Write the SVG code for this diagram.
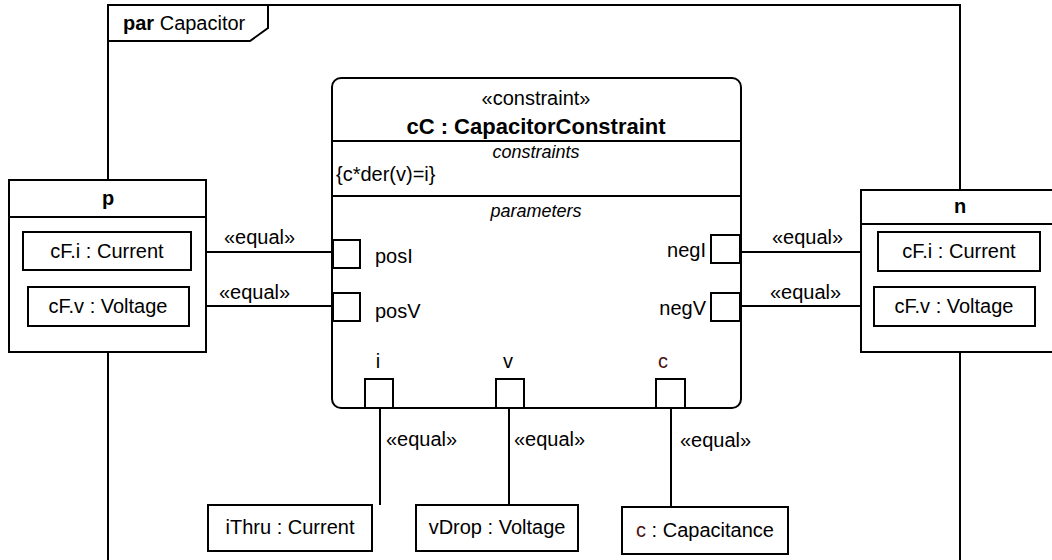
<svg xmlns="http://www.w3.org/2000/svg" width="1052" height="560" viewBox="0 0 1052 560">
<style>
text{font-family:"Liberation Sans",Arial,sans-serif;font-size:20px;fill:#000}
.b{font-weight:bold}
.t{font-size:22px}
.it{font-style:italic;font-size:18px}
.m{text-anchor:middle}
.e{text-anchor:end}
.box{fill:#fff;stroke:#000;stroke-width:2}
.ln{stroke:#000;stroke-width:2;fill:none}
.red{fill:#4a1010}
</style>
<g id="frame">
<rect x="108" y="5" width="852" height="570" fill="#fff" stroke="#000" stroke-width="2"/>
<path class="ln" d="M108 41 H250 L268 28 V5"/>
<text x="123" y="30"><tspan class="b">par</tspan> Capacitor</text>
</g>
<g id="connectors">
<line class="ln" x1="190" y1="252" x2="333" y2="252"/>
<line class="ln" x1="188" y1="306" x2="333" y2="306"/>
<line class="ln" x1="740" y1="252" x2="878" y2="252"/>
<line class="ln" x1="740" y1="306" x2="874" y2="306"/>
<line class="ln" x1="380" y1="408" x2="380" y2="505"/>
<line class="ln" x1="509" y1="408" x2="509" y2="505"/>
<line class="ln" x1="671" y1="408" x2="671" y2="507"/>
<text x="224" y="244">«equal»</text>
<text x="219" y="299">«equal»</text>
<text x="772" y="244">«equal»</text>
<text x="770" y="299">«equal»</text>
<text x="386" y="446">«equal»</text>
<text x="514" y="446">«equal»</text>
<text x="680" y="447">«equal»</text>
</g>
<g id="cC">
<rect class="box" x="332" y="78" width="409" height="330" rx="9"/>
<line class="ln" x1="332" y1="141" x2="741" y2="141"/>
<line class="ln" x1="332" y1="196" x2="741" y2="196"/>
<text class="m" x="536" y="105">«constraint»</text>
<text class="m b t" x="536" y="134">cC : CapacitorConstraint</text>
<text class="m it" x="536" y="158">constraints</text>
<text x="336" y="181">{c*der(v)=i}</text>
<text class="m it" x="536" y="217">parameters</text>
</g>
<g id="posI"><rect class="box" x="333" y="240" width="27" height="28"/><text x="375" y="263">posI</text></g>
<g id="posV"><rect class="box" x="333" y="293" width="27" height="28"/><text x="375" y="318">posV</text></g>
<g id="negI"><rect class="box" x="711" y="235" width="29" height="28"/><text class="e" x="706" y="257">negI</text></g>
<g id="negV"><rect class="box" x="711" y="293" width="29" height="28"/><text class="e" x="706" y="315">negV</text></g>
<g id="port-i"><rect class="box" x="365" y="379" width="28" height="29"/><text class="m" x="378" y="368">i</text></g>
<g id="port-v"><rect class="box" x="496" y="379" width="28" height="29"/><text class="m" x="508" y="368">v</text></g>
<g id="port-c"><rect class="box" x="656" y="379" width="29" height="29"/><text class="m red" x="663" y="368">c</text></g>
<g id="p">
<rect class="box" x="9" y="180" width="197" height="172"/>
<line class="ln" x1="9" y1="217" x2="206" y2="217"/>
<text class="m b" x="108" y="205">p</text>
<rect class="box" x="23" y="232" width="168" height="38"/>
<text class="m" x="107" y="258">cF.i : Current</text>
<rect class="box" x="28" y="287" width="161" height="39"/>
<text class="m" x="108" y="313">cF.v : Voltage</text>
</g>
<g id="n">
<rect class="box" x="861" y="190" width="200" height="162"/>
<line class="ln" x1="861" y1="224" x2="1061" y2="224"/>
<text class="m b" x="960" y="213">n</text>
<rect class="box" x="878" y="232" width="162" height="39"/>
<text class="m" x="959" y="258">cF.i : Current</text>
<rect class="box" x="874" y="287" width="161" height="39"/>
<text class="m" x="954" y="313">cF.v : Voltage</text>
</g>
<g id="iThru"><rect class="box" x="208" y="505" width="164" height="46"/><text class="m" x="290" y="534">iThru : Current</text></g>
<g id="vDrop"><rect class="box" x="416" y="505" width="162" height="46"/><text class="m" x="497" y="534">vDrop : Voltage</text></g>
<g id="c"><rect class="box" x="622" y="507" width="166" height="47"/><text class="m" x="705" y="537"><tspan class="red">c</tspan> : Capacitance</text></g>
</svg>
